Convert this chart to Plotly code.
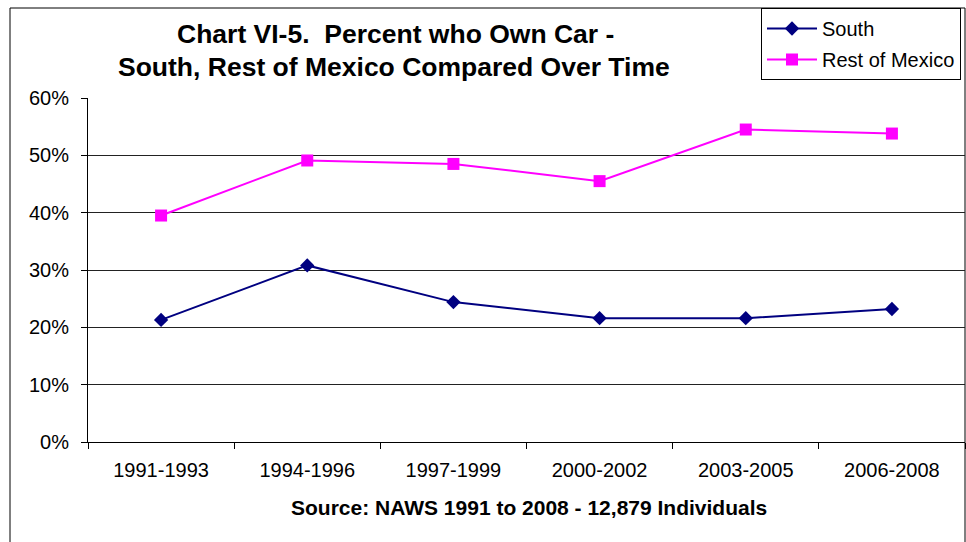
import plotly.graph_objects as go

periods = ["1991-1993", "1994-1996", "1997-1999", "2000-2002", "2003-2005", "2006-2008"]
south = [0.213, 0.308, 0.244, 0.216, 0.216, 0.232]
rest_of_mexico = [0.395, 0.491, 0.485, 0.455, 0.545, 0.538]
y_ticks = [0, 0.1, 0.2, 0.3, 0.4, 0.5, 0.6]

FONT = "Arial, 'Liberation Sans', sans-serif"

W, H = 966, 542
L, R, T, B = 88, 1, 98, 100
pw = W - L - R
ph = H - T - B

def px(x):
    return (x - L) / pw

def py(y):
    return (H - B - y) / ph

fig = go.Figure()
fig.add_trace(go.Scatter(
    x=periods, y=south, name="South", mode="lines+markers",
    line=dict(color="#000080", width=2),
    marker=dict(symbol="diamond", size=11, color="#000080"),
    legendgroup="a",
))
fig.add_trace(go.Scatter(
    x=periods, y=rest_of_mexico, name="Rest of Mexico", mode="lines+markers",
    line=dict(color="#FF00FF", width=2),
    marker=dict(symbol="square", size=12, color="#FF00FF"),
    legendgroup="b",
))

fig.update_layout(
    width=W, height=H,
    margin=dict(l=L, r=R, t=T, b=B, pad=0),
    paper_bgcolor="white", plot_bgcolor="white",
    font=dict(family=FONT, size=20, color="black"),
    showlegend=True,
    legend=dict(
        x=px(761), y=py(8), xanchor="left", yanchor="top",
        bgcolor="white", bordercolor="black", borderwidth=1,
        font=dict(family=FONT, size=20, color="black"),
        traceorder="grouped", tracegroupgap=2, itemwidth=50,
    ),
    xaxis=dict(
        type="category", range=[-0.5, 5.5],
        showline=True, linecolor="black", linewidth=1,
        ticks="outside", ticklen=6, tickcolor="black", tickson="boundaries",
        showgrid=False, zeroline=False,
        tickfont=dict(family=FONT, size=20, color="black"),
        ticklabelstandoff=10,
    ),
    yaxis=dict(
        range=[0, 0.6], tickvals=y_ticks, tickformat=".0%",
        showline=True, linecolor="black", linewidth=1,
        ticks="outside", ticklen=6, tickcolor="black",
        showgrid=True, gridcolor="#222222", gridwidth=1,
        zeroline=False,
        tickfont=dict(family=FONT, size=20, color="black"),
        ticklabelstandoff=8,
    ),
)

fig.add_annotation(
    text="<b>Chart VI-5.\u00a0 Percent who Own Car -</b>",
    x=px(395), y=py(34), xref="paper", yref="paper",
    xanchor="center", yanchor="middle", showarrow=False,
    font=dict(family=FONT, size=26.5, color="black"),
)
fig.add_annotation(
    text="<b>South, Rest of Mexico Compared Over Time</b>",
    x=px(394), y=py(67), xref="paper", yref="paper",
    xanchor="center", yanchor="middle", showarrow=False,
    font=dict(family=FONT, size=26.5, color="black"),
)
fig.add_annotation(
    text="<b>Source: NAWS 1991 to 2008 - 12,879 Individuals</b>",
    x=px(529), y=py(508), xref="paper", yref="paper",
    xanchor="center", yanchor="middle", showarrow=False,
    font=dict(family=FONT, size=21, color="black"),
)

fig.add_shape(
    type="rect", xref="paper", yref="paper",
    x0=px(10), x1=px(965), y0=py(560), y1=py(8),
    line=dict(color="black", width=1), fillcolor="rgba(0,0,0,0)",
    layer="below",
)

fig.write_html(
    "out.html",
    config={"displayModeBar": False},
    post_script="document.body.style.margin='0';document.body.style.overflow='hidden';",
)
